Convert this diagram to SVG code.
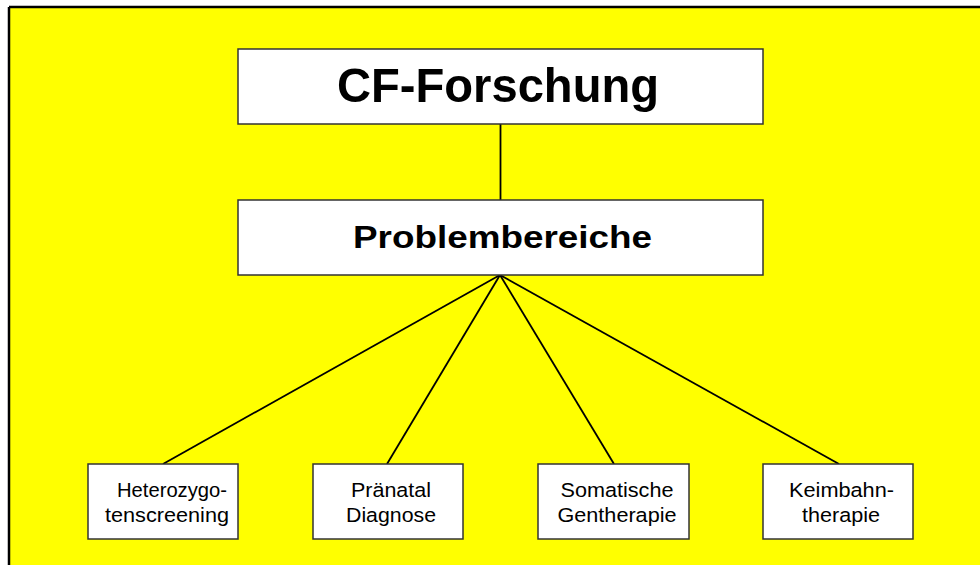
<svg xmlns="http://www.w3.org/2000/svg" width="980" height="565" viewBox="0 0 980 565">
<style>
.bg{fill:#ffff00;stroke:none}
.box{fill:#ffffff;stroke:#333333;stroke-width:1.5}
.conn{stroke:#000000;stroke-width:1.8;fill:none}
.t{font-family:"Liberation Sans",Arial,sans-serif;fill:#000000;text-anchor:middle}
.big{font-size:49px;font-weight:bold}
.mid{font-size:31px;font-weight:bold}
.sm{font-size:20.5px}
</style>
<rect x="0" y="0" width="980" height="565" fill="#ffffff"/>
<rect class="bg" x="9" y="7" width="971" height="558"/>
<line x1="9" y1="7" x2="980" y2="7" stroke="#000" stroke-width="2.5"/>
<line x1="9" y1="7" x2="9" y2="565" stroke="#000" stroke-width="2.5"/>
<g id="connectors">
<line class="conn" x1="500.5" y1="124" x2="500.5" y2="200"/>
<line class="conn" x1="500" y1="275" x2="163" y2="464"/>
<line class="conn" x1="500" y1="275" x2="387" y2="464"/>
<line class="conn" x1="500" y1="275" x2="614" y2="464"/>
<line class="conn" x1="500" y1="275" x2="839" y2="464"/>
</g>
<g id="cf-forschung">
<rect class="box" x="238" y="49" width="525" height="75"/>
<text class="t big" x="498" y="101.5" textLength="322" lengthAdjust="spacingAndGlyphs">CF-Forschung</text>
</g>
<g id="problembereiche">
<rect class="box" x="238" y="200" width="525" height="75"/>
<text class="t mid" x="502.5" y="248" textLength="299" lengthAdjust="spacingAndGlyphs">Problembereiche</text>
</g>
<g id="heterozygotenscreening">
<rect class="box" x="88" y="464" width="150" height="75"/>
<text class="t sm" x="172" y="497" textLength="110" lengthAdjust="spacingAndGlyphs">Heterozygo-</text>
<text class="t sm" x="167" y="522" textLength="124" lengthAdjust="spacingAndGlyphs">tenscreening</text>
</g>
<g id="praenatal-diagnose">
<rect class="box" x="313" y="464" width="150" height="75"/>
<text class="t sm" x="391" y="497" textLength="80" lengthAdjust="spacingAndGlyphs">Pränatal</text>
<text class="t sm" x="391" y="522" textLength="90" lengthAdjust="spacingAndGlyphs">Diagnose</text>
</g>
<g id="somatische-gentherapie">
<rect class="box" x="538" y="464" width="151" height="75"/>
<text class="t sm" x="617" y="497" textLength="113" lengthAdjust="spacingAndGlyphs">Somatische</text>
<text class="t sm" x="617" y="522" textLength="119" lengthAdjust="spacingAndGlyphs">Gentherapie</text>
</g>
<g id="keimbahntherapie">
<rect class="box" x="763" y="464" width="150" height="75"/>
<text class="t sm" x="841.5" y="497" textLength="105" lengthAdjust="spacingAndGlyphs">Keimbahn-</text>
<text class="t sm" x="841" y="522" textLength="78" lengthAdjust="spacingAndGlyphs">therapie</text>
</g>
</svg>
